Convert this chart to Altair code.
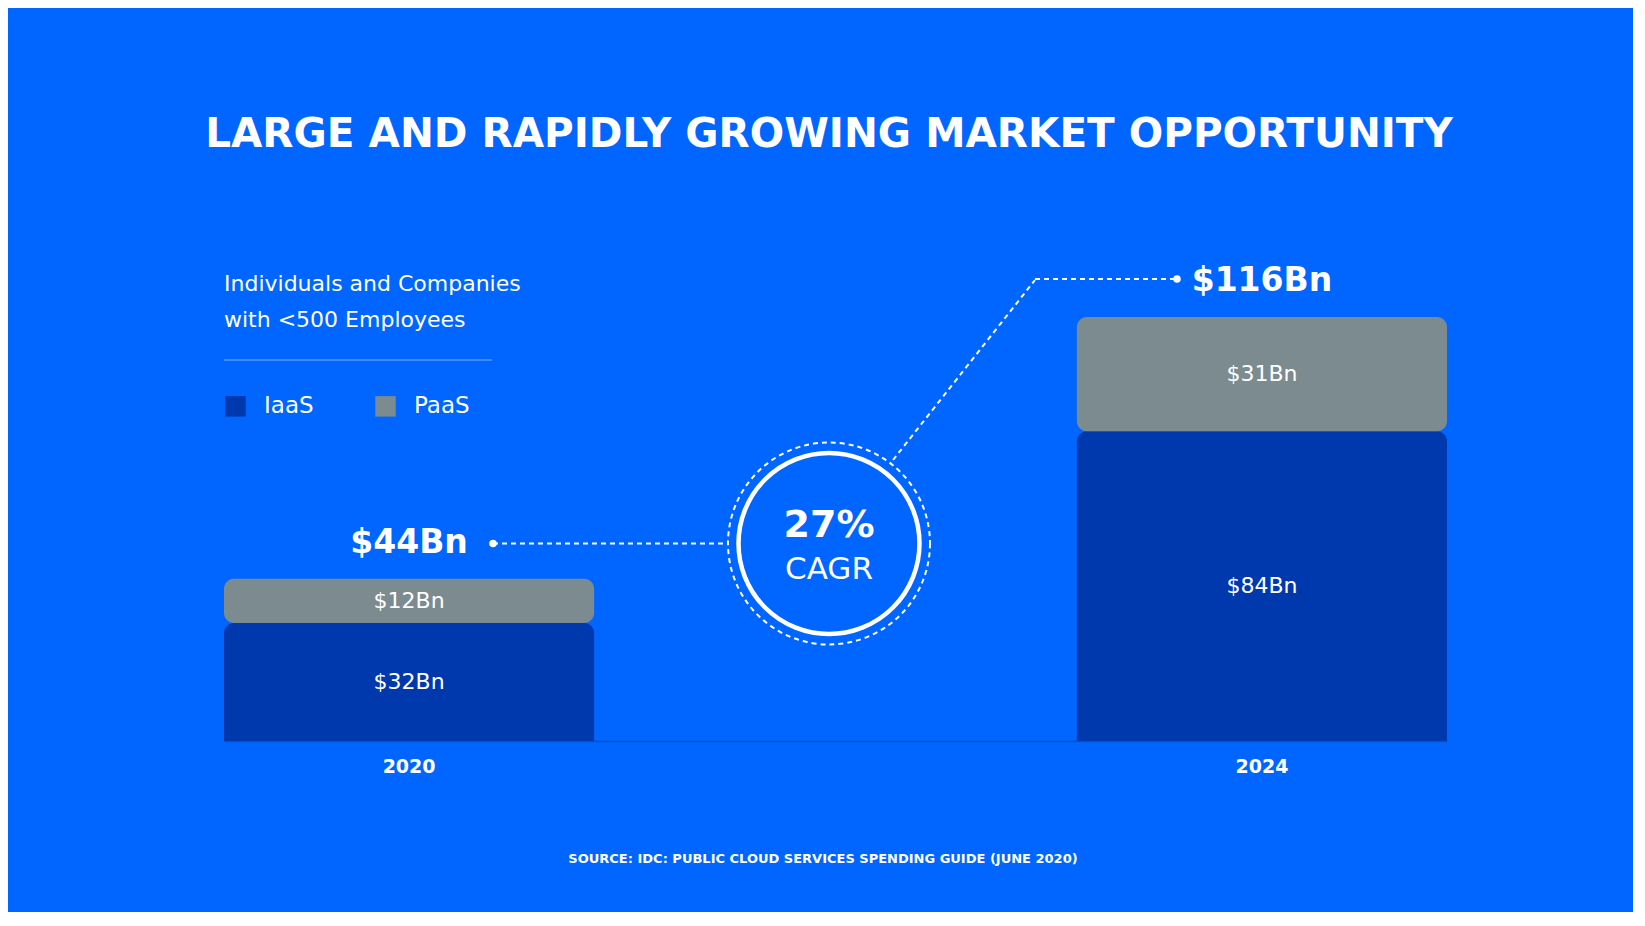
import altair as alt
import pandas as pd

# ---- data ----
years = ["2020", "2024"]
iaas = [32, 84]
paas = [12, 31]
totals = [44, 116]
segments = ["IaaS", "PaaS"]
title_text = "LARGE AND RAPIDLY GROWING MARKET OPPORTUNITY"
source_text = "SOURCE: IDC: PUBLIC CLOUD SERVICES SPENDING GUIDE (JUNE 2020)"
legend_title = ["Individuals and Companies", "with <500 Employees"]
cagr_value = "27%"
cagr_label = "CAGR"

BG = "#0066FF"
DARK = "#0039AD"
GRAY = "#7B8B8F"
WHITE = "#FFFFFF"
FONT = "DejaVu Sans"

rows = []
for y, a, p in zip(years, iaas, paas):
    rows.append({"year": y, "segment": "IaaS", "start": 0, "end": a, "mid": a / 2, "label": f"${a}Bn"})
    rows.append({"year": y, "segment": "PaaS", "start": a, "end": a + p, "mid": a + p / 2, "label": f"${p}Bn"})
df = pd.DataFrame(rows)
df_tot = pd.DataFrame({
    "year": years,
    "top": [a + p for a, p in zip(iaas, paas)],
    "label": [f"${t}Bn" for t in totals],
})

x_enc = alt.X(
    "year:N",
    sort=years,
    scale=alt.Scale(paddingInner=0.566, paddingOuter=0),
    axis=alt.Axis(
        title=None, labelAngle=0, ticks=False, labelPadding=16,
        labelFont=FONT, labelFontSize=19, labelFontWeight="bold", labelColor=WHITE,
        domainColor="#0A4FC6", domainWidth=1.5,
    ),
)
y_scale = alt.Scale(domain=[0, 160])
color_enc = alt.Color(
    "segment:N",
    scale=alt.Scale(domain=segments, range=[DARK, GRAY]),
    legend=alt.Legend(
        orient="none", legendX=0, legendY=123, direction="horizontal",
        title=legend_title, titleFont=FONT, titleFontSize=22, titleFontWeight="normal",
        titleColor=WHITE, titleLineHeight=35.6, titlePadding=63, titleAnchor="start",
        titleLimit=600,
        symbolType="square", symbolSize=420, symbolStrokeWidth=0, symbolOpacity=1,
        labelFont=FONT, labelFontSize=23, labelColor=WHITE, labelOffset=17,
        columnPadding=60,
    ),
)

base = alt.Chart(df)
bar_iaas = base.transform_filter(alt.datum.segment == "IaaS").mark_bar(
    cornerRadiusTopLeft=10, cornerRadiusTopRight=10
).encode(x=x_enc, y=alt.Y("start:Q", scale=y_scale, axis=None), y2="end:Q", color=color_enc)
bar_paas = base.transform_filter(alt.datum.segment == "PaaS").mark_bar(
    cornerRadius=10
).encode(x=x_enc, y=alt.Y("start:Q", scale=y_scale, axis=None), y2="end:Q", color=color_enc)

seg_text = base.mark_text(font=FONT, fontSize=22, color=WHITE, baseline="middle").encode(
    x=x_enc, y=alt.Y("mid:Q", scale=y_scale), text="label:N"
)
tot_text = alt.Chart(df_tot).mark_text(
    font=FONT, fontSize=33, fontWeight="bold", color=WHITE, baseline="alphabetic", dy=-26
).encode(x=x_enc, y=alt.Y("top:Q", scale=y_scale), text="label:N")

one = alt.Chart(pd.DataFrame({"k": [0]}))

title = one.mark_text(font=FONT, fontSize=40.5, fontWeight="bold", color=WHITE,
                      baseline="alphabetic", align="center", text=title_text).encode(
    x=alt.value(605), y=alt.value(-4))
source = one.mark_text(font=FONT, fontSize=13, fontWeight="bold", color=WHITE,
                       baseline="alphabetic", align="center", text=source_text).encode(
    x=alt.value(599), y=alt.value(712))
sep = one.mark_rule(color=WHITE, opacity=0.35, strokeWidth=1.5).encode(
    x=alt.value(0), x2=alt.value(268), y=alt.value(209))

dash = [5, 4]
line1 = one.mark_rule(color=WHITE, strokeWidth=2, strokeDash=dash).encode(
    x=alt.value(269), x2=alt.value(504), y=alt.value(392.5), y2=alt.value(392.5))
line2 = one.mark_rule(color=WHITE, strokeWidth=2, strokeDash=dash).encode(
    x=alt.value(669), x2=alt.value(811), y=alt.value(309), y2=alt.value(129))
line3 = one.mark_rule(color=WHITE, strokeWidth=2, strokeDash=dash).encode(
    x=alt.value(811), x2=alt.value(953), y=alt.value(128), y2=alt.value(128))
dot1 = one.mark_circle(color=WHITE, opacity=1, size=56).encode(x=alt.value(269), y=alt.value(392.5))
dot2 = one.mark_circle(color=WHITE, opacity=1, size=56).encode(x=alt.value(953), y=alt.value(128))

outer = one.mark_point(shape="circle", filled=False, color=WHITE, strokeWidth=2,
                       strokeDash=[5, 4], opacity=1, size=202 * 202).encode(
    x=alt.value(605), y=alt.value(392.5))
inner = one.mark_point(shape="circle", filled=True, fill=BG, stroke=WHITE, strokeWidth=4.5,
                       opacity=1, size=181 * 181).encode(x=alt.value(605), y=alt.value(392.5))
cagr1 = one.mark_text(font=FONT, fontSize=38, fontWeight="bold", color=WHITE,
                      baseline="alphabetic", align="center", text=cagr_value).encode(
    x=alt.value(605), y=alt.value(386))
cagr2 = one.mark_text(font=FONT, fontSize=31, color=WHITE,
                      baseline="alphabetic", align="center", text=cagr_label).encode(
    x=alt.value(605), y=alt.value(428))

chart = alt.layer(
    bar_iaas, bar_paas, seg_text, tot_text,
    title, source, sep, line1, line2, line3, dot1, dot2, outer, inner, cagr1, cagr2,
).properties(
    width=1223, height=590,
    autosize=alt.AutoSizeParams(type="none"),
    padding={"left": 216, "top": 143, "right": 186, "bottom": 171},
    background=BG,
).configure_view(stroke=None)

chart.save("out.html", embed_options={"renderer": "svg", "actions": False})
